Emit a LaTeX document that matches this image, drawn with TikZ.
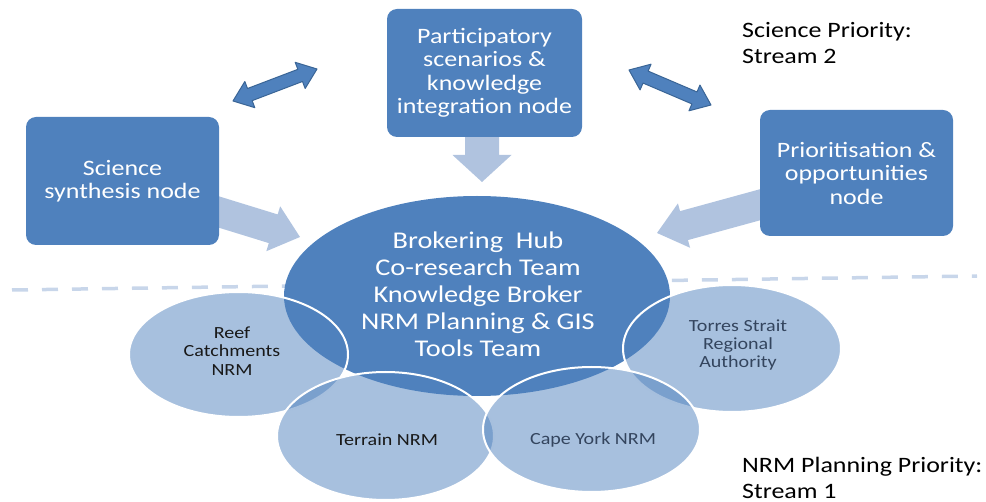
\documentclass[tikz,border=0pt]{standalone}
\usepackage{fontspec}
\setmainfont{Carlito}[FakeStretch=1.18]
\usetikzlibrary{calc,shapes.geometric}

\definecolor{hubblue}{HTML}{4F81BD}
\definecolor{paleblue}{HTML}{B0C3DF}
\definecolor{edgeblue}{HTML}{3A6596}
\definecolor{dashblue}{HTML}{C8D6EA}
\definecolor{slatetext}{HTML}{34455E}

% Single block arrow: style, start, tip, half shaft width, half head width, head length
\newcommand\fatarrow[6]{%
  \coordinate (fa-neck) at ($(#3)!#6!(#2)$);
  \fill[#1] ($(#2)!#4!90:(#3)$) -- ($(fa-neck)!#4!90:(#3)$) -- ($(fa-neck)!#5!90:(#3)$)
    -- (#3) -- ($(fa-neck)!#5!-90:(#3)$) -- ($(fa-neck)!#4!-90:(#3)$)
    -- ($(#2)!#4!-90:(#3)$) -- cycle;
}
% Double-headed block arrow: style, tip one, tip two, half shaft width, half head width, head length
\newcommand\dblfatarrow[6]{%
  \coordinate (da-neckA) at ($(#2)!#6!(#3)$);
  \coordinate (da-neckB) at ($(#3)!#6!(#2)$);
  \filldraw[#1] (#2) -- ($(da-neckA)!#5!90:(#3)$) -- ($(da-neckA)!#4!90:(#3)$)
    -- ($(da-neckB)!#4!-90:(#2)$) -- ($(da-neckB)!#5!-90:(#2)$) -- (#3)
    -- ($(da-neckB)!#5!90:(#2)$) -- ($(da-neckB)!#4!90:(#2)$)
    -- ($(da-neckA)!#4!-90:(#3)$) -- ($(da-neckA)!#5!-90:(#3)$) -- cycle;
}

\begin{document}
\begin{tikzpicture}[x=1pt,y=-1pt,
  nodebox/.style={fill=hubblue, rounded corners=10pt, text=white, align=center,
    inner sep=0pt, font=\fontsize{22}{23.5}\selectfont},
  hubshape/.style={ellipse, fill=hubblue, inner sep=0pt, text=white, align=center,
    font=\fontsize{24}{27}\selectfont},
  member/.style={ellipse, fill=hubblue, fill opacity=0.5, draw=white, line width=2pt,
    inner sep=0pt},
  membertext/.style={align=center, inner sep=0pt, font=\fontsize{17}{18.5}\selectfont},
  streamlabel/.style={align=left, anchor=west, inner sep=0pt, text=black,
    font=\fontsize{22}{25.5}\selectfont},
  paleflow/.style={fill=paleblue},
  linkflow/.style={fill=hubblue, draw=edgeblue, line width=1pt, line join=round},
  divider/.style={draw=dashblue, line width=3.5pt, dash pattern=on 16pt off 14pt}
]
\useasboundingbox (0,0) rectangle (986,502);

% dashed divider between the two streams
\coordinate (divL) at (12,290);
\coordinate (divR) at (977,276);
\draw[divider] (divL) -- (divR);

% flows into the hub (drawn first so the boxes sit on top)
\coordinate (partOut) at (482,134);
\coordinate (partTip) at (482,182);
\fatarrow{paleflow}{partOut}{partTip}{17pt}{29.5pt}{27pt}
\coordinate (sciOut) at (214,210.5);
\coordinate (sciTip) at (300,237);
\fatarrow{paleflow}{sciOut}{sciTip}{15pt}{23.5pt}{28pt}
\coordinate (prioOut) at (765,203.4);
\coordinate (prioTip) at (657,233);
\fatarrow{paleflow}{prioOut}{prioTip}{15pt}{23pt}{28pt}

% science stream nodes
\node[nodebox, minimum width=193pt, minimum height=128pt] (sci) at (122.5,181)
  {Science\\synthesis node};
\node[nodebox, minimum width=195pt, minimum height=128pt] (part) at (484.5,73)
  {Participatory\\scenarios \&\\knowledge\\integration node};
\node[nodebox, minimum width=193pt, minimum height=126pt] (prio) at (856.5,173)
  {Prioritisation \&\\opportunities\\node};

% two-way links between the nodes
\coordinate (leftLinkA) at (233,101);
\coordinate (leftLinkB) at (317,69);
\dblfatarrow{linkflow}{leftLinkA}{leftLinkB}{6.5pt}{14pt}{18pt}
\coordinate (rightLinkA) at (629,70);
\coordinate (rightLinkB) at (711,105);
\dblfatarrow{linkflow}{rightLinkA}{rightLinkB}{6.5pt}{14pt}{18pt}

% brokering hub
\node[hubshape, minimum width=386pt, minimum height=200pt] (hub) at (477,296) {};
\node[align=center, inner sep=0pt, text=white, font=\fontsize{24}{27}\selectfont]
  (hubtext) at (478,294)
  {Brokering\ \ Hub\\Co-research Team\\Knowledge Broker\\NRM Planning \& GIS\\Tools Team};

% regional NRM bodies
\node[member, minimum width=219pt, minimum height=125pt] (reef) at (238.5,354.5) {};
\node[member, minimum width=218pt, minimum height=127pt] (torres) at (732,348.5) {};
\node[member, minimum width=217pt, minimum height=128pt] (terrain) at (385.5,436) {};
\node[member, minimum width=217pt, minimum height=125pt] (cape) at (591.5,429.5) {};

\node[membertext, text=black!90] (reefText) at (232,351) {Reef\\Catchments\\NRM};
\node[membertext, text=black!90] (terrainText) at (387,440) {Terrain NRM};
\node[membertext, text=slatetext] (capeText) at (593,440) {Cape York NRM};
\node[membertext, text=slatetext, font=\fontsize{17}{18}\selectfont] (torresText) at (738,345)
  {Torres Strait\\Regional\\Authority};

% stream labels
\node[streamlabel] (scienceStream) at (742,43) {Science Priority:\\Stream 2};
\node[streamlabel] (nrmStream) at (742,478) {NRM Planning Priority:\\Stream 1};
\end{tikzpicture}
\end{document}
